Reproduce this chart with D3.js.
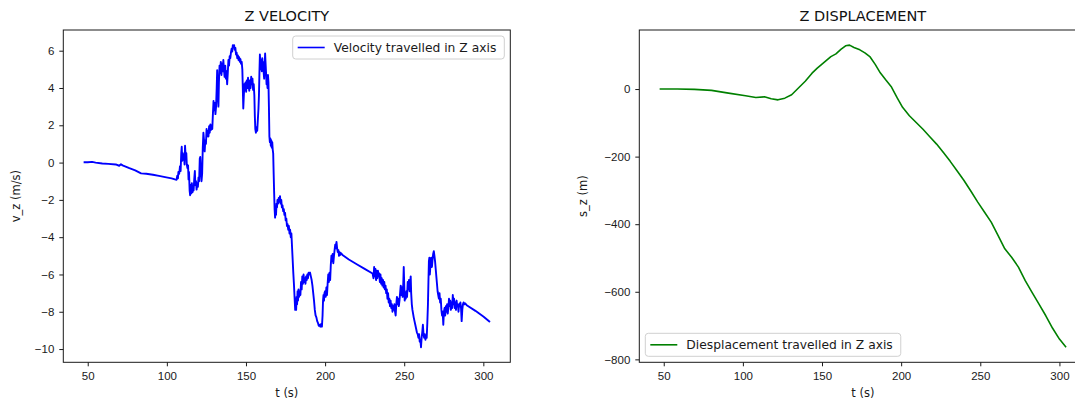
<!DOCTYPE html>
<html lang="en">
<head>
<meta charset="UTF-8">
<title>Z velocity and displacement</title>
<script src="https://cdn.jsdelivr.net/npm/d3@7"></script>
<style>
    body { margin: 0; background: #fff; }
    svg { font-family: "DejaVu Sans", sans-serif; display: block; }
    .tick text { font-size: 11.5px; fill: #1a1a1a; }
    .tick line { stroke: #1a1a1a; }
    .domain { display: none; }
    .frame { fill: none; stroke: #1a1a1a; stroke-width: 1; }
    .title { font-size: 14.5px; fill: #111; }
    .axis-label { font-size: 11.5px; fill: #1a1a1a; }
    .legend text { font-size: 12.3px; fill: #1a1a1a; }
</style>
</head>
<body>
<div id="chart"></div>
<script>
// readings from the picture: [t (s), v_z (m/s)]
const velocity = [
  [47.4,0.02],[50,0.02],[52.8,0.04],[55,0.0],[59.2,-0.05],[63,-0.07],[67.7,-0.1],[69.9,-0.17],[71,-0.09],[72,-0.15],
  [76.3,-0.3],[80,-0.42],[83.7,-0.58],[87,-0.6],[91.2,-0.65],[95,-0.71],[99.7,-0.79],[103,-0.85],[105.1,-0.9],[106.1,-0.92],
  [106.6,-0.7],[107.0,-0.85],[107.3,-0.5],[107.8,-0.6],[108.3,-0.2],[108.7,-0.45],[109.1,0.5],[109.4,0.85],[109.7,0.1],[110.1,0.5],
  [110.4,0.15],[110.8,0.4],[111.2,-0.1],[111.5,0.9],[111.9,0.3],[112.3,0.5],[112.6,-0.1],[113.0,-0.3],[113.4,-0.15],[113.7,-0.9],
  [114.0,-0.5],[114.4,-1.5],[114.7,-1.75],[115.1,-1.2],[115.4,-1.65],[115.8,-1.1],[116.2,-1.6],[116.5,-1.3],[116.9,-1.5],[117.3,-0.9],
  [117.7,-0.45],[118.0,-1.2],[118.4,-1.0],[118.8,-1.45],[119.2,-1.1],[119.6,-1.3],[120.0,-0.8],[120.4,-1.0],[120.8,0.2],[121.1,0.3],
  [121.5,-0.5],[121.9,-1.0],[122.3,-0.6],[122.7,0.8],[123.1,1.6],[123.5,1.2],[123.9,0.6],[124.3,1.2],[124.7,1.0],[125.1,1.8],
  [125.5,1.4],[125.9,1.7],[126.3,1.4],[126.7,1.95],[127.1,1.6],[127.5,2.05],[127.9,1.75],[128.3,2.0],[128.7,1.8],[129.1,2.6],
  [129.5,3.3],[129.9,2.8],[130.3,3.2],[130.7,2.6],[131.1,3.0],[131.5,4.0],[131.8,4.95],[132.2,3.6],[132.6,3.0],[132.9,4.3],
  [133.3,5.2],[133.7,4.8],[134.1,5.4],[134.5,4.7],[134.9,5.3],[135.3,4.9],[135.7,5.5],[136.1,5.0],[136.5,4.6],[136.9,5.2],
  [137.3,4.5],[137.7,4.9],[138.1,4.2],[138.5,4.8],[138.9,5.5],[139.3,5.2],[139.7,5.7],[140.1,5.6],[140.5,5.9],[140.9,6.1],
  [141.3,5.95],[141.7,6.3],[142.1,6.2],[142.5,6.3],[142.9,6.05],[143.3,6.15],[143.7,5.8],[144.1,5.9],[144.5,5.6],[144.9,5.75],
  [145.3,5.5],[145.7,5.65],[146.1,5.4],[146.5,5.55],[146.9,5.3],[147.3,5.4],[147.7,5.0],[148.0,4.0],[148.3,2.9],[148.6,3.5],
  [149.0,4.2],[149.3,3.9],[149.7,4.3],[150.1,3.8],[150.5,4.4],[150.9,4.0],[151.3,4.55],[151.7,4.1],[152.1,3.85],[152.5,4.4],
  [152.9,4.0],[153.3,4.6],[153.7,4.2],[154.1,4.5],[154.5,3.9],[154.9,4.2],[155.3,3.6],[155.6,2.5],[155.9,1.8],[156.3,1.6],
  [156.7,1.9],[157.1,1.7],[157.5,2.3],[157.9,2.9],[158.2,3.6],[158.5,4.8],[158.8,5.8],[159.1,5.3],[159.4,5.0],[159.7,5.5],
  [160.0,4.9],[160.3,5.6],[160.6,5.1],[160.9,5.4],[161.2,4.8],[161.5,4.5],[161.8,5.2],[162.1,5.85],[162.4,5.3],[162.7,4.8],
  [163.0,4.2],[163.3,4.6],[163.6,4.0],[163.9,4.7],[164.2,4.3],[164.5,3.0],[164.8,1.4],[165.1,1.1],[165.4,1.3],[165.7,0.9],
  [166.0,1.2],[166.3,0.8],[166.6,1.1],[166.9,0.7],[167.2,0.5],[167.5,-0.6],[167.8,-1.6],[168.1,-2.5],[168.4,-2.95],[168.7,-2.5],
  [169.0,-2.8],[169.3,-2.2],[169.6,-2.4],[169.9,-2.0],[170.3,-2.2],[170.7,-1.9],[171.1,-2.1],[171.5,-1.8],[171.9,-2.2],[172.3,-2.0],
  [172.7,-2.4],[173.1,-2.3],[173.5,-2.6],[173.9,-2.5],[174.3,-2.8],[174.7,-2.7],[175.1,-3.1],[175.5,-3.0],[175.9,-3.4],[176.3,-3.3],
  [176.7,-3.6],[177.1,-3.4],[177.5,-3.8],[177.9,-3.6],[178.3,-4.0],[178.7,-3.8],[179.1,-4.5],[179.5,-5.2],[179.9,-5.9],[180.3,-6.5],
  [180.7,-7.2],[181.1,-7.9],[181.4,-7.6],[181.7,-7.9],[182.0,-7.2],[182.3,-7.6],[182.6,-6.9],[182.9,-7.4],[183.2,-6.8],[183.6,-7.2],
  [184.0,-6.9],[184.4,-7.1],[184.8,-6.4],[185.2,-6.8],[185.6,-6.1],[186.0,-6.5],[186.4,-6.0],[186.8,-6.4],[187.2,-6.2],[187.6,-6.5],
  [188.0,-6.1],[188.4,-6.3],[188.8,-6.0],[189.2,-6.2],[189.6,-5.9],[190.0,-6.0],[190.5,-5.9],[191.0,-6.1],[191.5,-6.3],[192.0,-6.6],
  [192.5,-7.0],[193.0,-7.4],[193.5,-7.9],[194.0,-8.2],[194.5,-8.3],[195.0,-8.5],[195.5,-8.6],[196.0,-8.75],[196.5,-8.7],[197.0,-8.8],
  [197.5,-8.65],[198.0,-8.8],[198.4,-8.2],[198.7,-7.4],[199.0,-7.1],[199.3,-7.4],[199.6,-7.0],[200.0,-6.9],[200.4,-7.2],[200.8,-6.7],
  [201.2,-7.1],[201.6,-6.5],[202.0,-6.0],[202.4,-6.4],[202.8,-5.9],[203.2,-6.3],[203.6,-5.5],[204.0,-5.0],[204.4,-5.3],[204.8,-4.9],
  [205.2,-5.4],[205.6,-5.0],[206.0,-4.7],[206.4,-4.4],[206.8,-4.6],[207.2,-4.25],[207.6,-4.6],[208.0,-4.8],[208.4,-4.7],[208.8,-5.0],
  [209.2,-4.8],[209.6,-4.95],[210.0,-4.85],[211,-4.95],[215,-5.2],[220,-5.45],[225,-5.7],[230,-5.95],
  [230.6,-6.2],[231.0,-5.6],[231.4,-6.1],[231.8,-5.7],[232.2,-6.3],[232.6,-5.8],[233.0,-6.2],[233.4,-5.8],[233.8,-6.1],[234.2,-5.95],
  [234.6,-6.4],[235.0,-6.0],[235.4,-6.5],[235.8,-6.2],[236.2,-6.6],[236.6,-6.3],[237.0,-6.7],[237.4,-6.4],[237.8,-6.8],[238.2,-6.6],
  [238.6,-7.0],[239.0,-6.8],[239.4,-7.3],[239.8,-7.0],[240.2,-7.5],[240.6,-7.3],[241.0,-7.7],[241.4,-7.4],[241.8,-7.8],[242.2,-7.6],
  [242.6,-8.0],[243.0,-7.7],[243.4,-7.9],[243.8,-7.6],[244.2,-8.0],[244.6,-8.2],[245.0,-7.6],[245.4,-7.2],[245.8,-7.6],[246.2,-7.3],
  [246.6,-7.7],[247.0,-7.4],[247.4,-7.0],[247.8,-6.6],[248.2,-7.1],[248.6,-6.7],[249.0,-7.2],[249.4,-6.5],[249.7,-5.6],[250.0,-6.5],
  [250.3,-7.4],[250.6,-7.0],[251.0,-7.3],[251.4,-6.9],[251.8,-7.2],[252.2,-6.4],[252.6,-6.8],[253.0,-6.3],[253.4,-6.9],[253.8,-6.4],
  [254.1,-6.1],[254.4,-7.0],[254.8,-7.6],[255.2,-7.9],[255.6,-8.1],[256.0,-8.3],[256.5,-8.5],[257.0,-8.7],[257.5,-8.9],[258.0,-9.1],
  [258.5,-9.2],[259.0,-9.4],[259.4,-9.2],[259.8,-9.6],[260.2,-9.5],[260.6,-9.9],[261.0,-9.4],[261.4,-9.1],[261.8,-8.7],[262.2,-9.2],
  [262.6,-9.4],[263.0,-9.2],[263.4,-9.5],[263.8,-9.3],[264.2,-9.4],[264.6,-8.6],[265.0,-7.6],[265.3,-6.4],[265.6,-5.3],[265.9,-5.1],
  [266.2,-6.0],[266.5,-5.6],[266.8,-5.3],[267.1,-5.1],[267.5,-5.6],[267.9,-5.2],[268.3,-4.9],[268.7,-4.75],[269.1,-5.0],[269.5,-5.3],
  [269.9,-5.7],[270.3,-6.1],[270.7,-6.5],[271.1,-6.9],[271.5,-7.1],[271.9,-7.3],[272.3,-7.0],[272.7,-7.5],[273.1,-7.3],[273.5,-7.9],
  [273.9,-8.2],[274.3,-8.0],[274.7,-8.7],[275.1,-8.0],[275.5,-7.8],[275.9,-8.2],[276.3,-7.7],[276.7,-8.0],[277.1,-7.6],[277.5,-8.1],
  [277.9,-7.8],[278.3,-7.3],[278.7,-7.7],[279.1,-7.4],[279.5,-7.9],[279.9,-7.5],[280.3,-7.8],[280.7,-7.1],[281.1,-7.6],[281.5,-7.3],
  [281.9,-7.8],[282.3,-7.5],[282.7,-7.9],[283.1,-7.4],[283.5,-7.7],[283.9,-7.6],[284.3,-8.0],[284.7,-7.6],[285.1,-7.7],[285.5,-7.5],
  [285.9,-7.8],[286.3,-8.5],[286.7,-7.9],[287.1,-7.6],[287.5,-7.5],[288.0,-7.6],[288.5,-7.55],[289.5,-7.65],
  [295,-7.95],[300,-8.25],[304.2,-8.55]
];

// readings from the picture: [t (s), s_z (m)]
const displacement = [
  [47.4,0],[58.6,0],[69.4,-1],[80.2,-4],[90.9,-12],[101.7,-20],[108.2,-25],[113.6,-23],[117.9,-29],[122.2,-32],
  [126.5,-27],[130.8,-17],[135.1,3],[139.4,23],[143.7,47],[147,62],[151.3,79],[155.6,96],[158.8,104],[162.1,118],
  [164.9,128],[167.4,130],[170.2,123],[173.9,116],[177.1,107],[180.4,95],[183.6,73],[186.8,48],[190.1,28],[193.9,6],
  [197.6,-27],[200.9,-54],[205.2,-79],[209.5,-99],[213.8,-119],[218.1,-141],[222.4,-163],[226.7,-188],[231,-214],[235.3,-242],
  [239.6,-270],[243.9,-301],[248.3,-334],[252.6,-364],[256.9,-394],[261.2,-433],[265.5,-473],[269.8,-498],[274.1,-527],[278.4,-567],
  [282.7,-602],[287,-636],[291.4,-671],[295.7,-708],[300,-740],[304.2,-764]
];

const timeTicks = [50, 100, 150, 200, 250, 300];
const velTicks = [-10, -8, -6, -4, -2, 0, 2, 4, 6];
const dispTicks = [-800, -600, -400, -200, 0];

const width = 1075, height = 402;

const svg = d3.select("#chart").append("svg")
    .attr("width", width)
    .attr("height", height);

// matplotlib-like 5% padding around data
function padded(ext) {
    const p = (ext[1] - ext[0]) * 0.05;
    return [ext[0] - p, ext[1] + p];
}

function drawPanel(opt) {
    const {left, right, top, bottom} = opt.box;
    const x = d3.scaleLinear()
        .domain(padded(d3.extent(opt.data, d => d[0])))
        .range([left, right]);
    const y = d3.scaleLinear()
        .domain(padded(d3.extent(opt.data, d => d[1])))
        .range([bottom, top]);

    const g = svg.append("g");

    g.append("g")
        .attr("transform", `translate(0,${bottom})`)
        .call(d3.axisBottom(x).tickValues(timeTicks).tickSize(4).tickPadding(6));

    g.append("g")
        .attr("transform", `translate(${left},0)`)
        .call(d3.axisLeft(y).tickValues(opt.yTicks).tickSize(4).tickPadding(5));

    const clipId = "clip-" + opt.id;
    g.append("clipPath").attr("id", clipId)
        .append("rect")
        .attr("x", left).attr("y", top)
        .attr("width", right - left).attr("height", bottom - top);

    g.append("path")
        .datum(opt.data)
        .attr("clip-path", `url(#${clipId})`)
        .attr("fill", "none")
        .attr("stroke", opt.color)
        .attr("stroke-width", opt.lineWidth)
        .attr("stroke-linejoin", "round")
        .attr("d", d3.line().x(d => x(d[0])).y(d => y(d[1])));

    g.append("rect")
        .attr("class", "frame")
        .attr("x", left).attr("y", top)
        .attr("width", right - left).attr("height", bottom - top);

    g.append("text")
        .attr("class", "title")
        .attr("x", (left + right) / 2)
        .attr("y", 20.5)
        .attr("text-anchor", "middle")
        .text(opt.title);

    g.append("text")
        .attr("class", "axis-label")
        .attr("x", (left + right) / 2)
        .attr("y", 397)
        .attr("text-anchor", "middle")
        .text("t (s)");

    g.append("text")
        .attr("class", "axis-label")
        .attr("text-anchor", "middle")
        .attr("transform", `translate(${opt.yLabelX},${(top + bottom) / 2})rotate(-90)`)
        .text(opt.yLabel);

    // legend
    const legend = g.append("g").attr("class", "legend");
    const box = legend.append("rect")
        .attr("fill", "#fff")
        .attr("fill-opacity", 0.8)
        .attr("stroke", "#d0d0d0")
        .attr("rx", 3);
    const label = legend.append("text").text(opt.legend);
    const tw = label.node().getComputedTextLength();
    const bw = tw + 49, bh = 23;
    const bx = opt.legendPos === "upper right" ? right - 6 - bw : left + 6;
    const by = opt.legendPos === "upper right" ? top + 6 : bottom - 6 - bh;
    box.attr("x", bx).attr("y", by).attr("width", bw).attr("height", bh);
    legend.append("line")
        .attr("x1", bx + 5).attr("x2", bx + 32)
        .attr("y1", by + bh / 2).attr("y2", by + bh / 2)
        .attr("stroke", opt.color)
        .attr("stroke-width", 1.6);
    label.attr("x", bx + 41).attr("y", by + bh / 2 + 4.3);
}

drawPanel({
    id: "vel",
    data: velocity,
    box: {left: 63.3, right: 510.3, top: 30, bottom: 362.3},
    yTicks: velTicks,
    color: "#0000ff",
    lineWidth: 1.9,
    title: "Z VELOCITY",
    yLabel: "v_z (m/s)",
    yLabelX: 20,
    legend: "Velocity travelled in Z axis",
    legendPos: "upper right"
});

drawPanel({
    id: "disp",
    data: displacement,
    box: {left: 639.3, right: 1086.4, top: 30, bottom: 362.3},
    yTicks: dispTicks,
    color: "#008000",
    lineWidth: 1.6,
    title: "Z DISPLACEMENT",
    yLabel: "s_z (m)",
    yLabelX: 587,
    legend: "Diesplacement travelled in Z axis",
    legendPos: "lower left"
});
</script>
</body>
</html>
